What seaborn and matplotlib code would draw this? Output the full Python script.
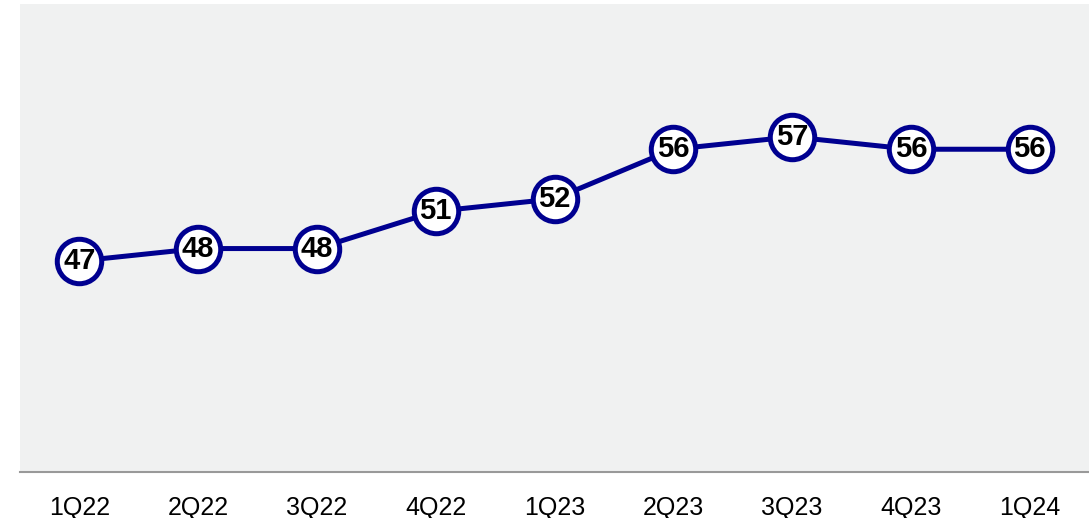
import matplotlib
matplotlib.use("Agg")
import matplotlib.pyplot as plt
import seaborn as sns
import pandas as pd

quarters = ["1Q22", "2Q22", "3Q22", "4Q22", "1Q23", "2Q23", "3Q23", "4Q23", "1Q24"]
values = [47, 48, 48, 51, 52, 56, 57, 56, 56]

df = pd.DataFrame({"quarter": quarters, "value": values})

sns.set_theme(style="white")
plt.rcParams['font.family'] = ['Liberation Sans', 'DejaVu Sans']

fig = plt.figure(figsize=(10.89, 5.18), dpi=100)
ax = fig.add_axes([20/1089, 1 - 472/518, 1069/1089, 468/518])
ax.set_facecolor("#f0f1f1")

navy = "#000090"
sns.lineplot(data=df, x="quarter", y="value", ax=ax, color=navy, linewidth=3.6,
             marker="o", markersize=32, markerfacecolor="white",
             markeredgecolor=navy, markeredgewidth=3.6, sort=False)

for i, v in enumerate(values):
    ax.text(i, v, str(v), ha="center", va="center", fontsize=21,
            fontweight="bold", color="black", zorder=5)

ax.set_xlim(-0.5, len(quarters) - 0.5)
ax.set_ylim(30, 67.7)
ax.set_yticks([])
ax.set_xlabel("")
ax.set_ylabel("")
for s in ["top", "left", "right"]:
    ax.spines[s].set_visible(False)
ax.spines["bottom"].set_color("#999999")
ax.spines["bottom"].set_linewidth(1.5)
ax.tick_params(axis="x", length=0, pad=17, labelsize=18, labelcolor="black")

fig.savefig("out.png", dpi=100)
